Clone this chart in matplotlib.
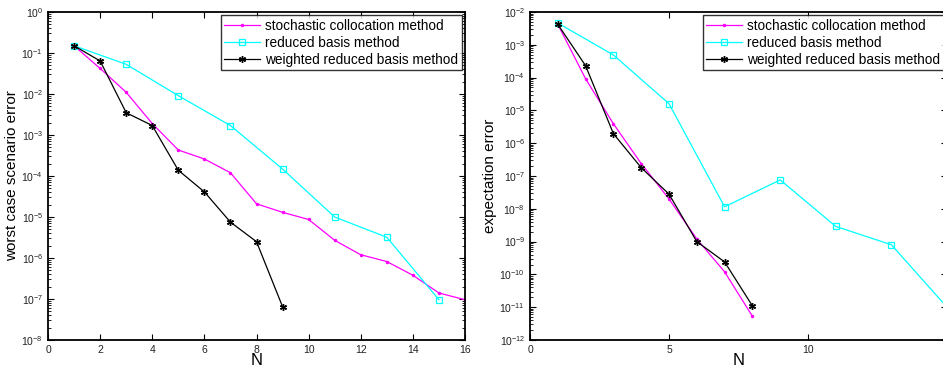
import matplotlib
matplotlib.use("Agg")
import matplotlib.pyplot as plt
import numpy as np
from matplotlib.ticker import LogLocator, NullFormatter, FixedLocator

plt.rcParams['font.family'] = ['Liberation Sans', 'DejaVu Sans']

# ---- left panel: worst case scenario error ----
N_sc_left = [1, 2, 3, 4, 5, 6, 7, 8, 9, 10, 11, 12, 13, 14, 15, 16]
sc_left = [0.15, 0.042, 0.011, 1.9e-3, 4.3e-4, 2.6e-4, 1.2e-4, 2.1e-5, 1.3e-5,
           8.7e-6, 2.7e-6, 1.2e-6, 8.2e-7, 3.8e-7, 1.4e-7, 9.6e-8]
N_rb_left = [1, 3, 5, 7, 9, 11, 13, 15]
rb_left = [0.15, 0.053, 9.1e-3, 1.7e-3, 1.48e-4, 1.0e-5, 3.2e-6, 9.6e-8]
N_wrb_left = [1, 2, 3, 4, 5, 6, 7, 8, 9]
wrb_left = [0.15, 0.064, 3.5e-3, 1.7e-3, 1.38e-4, 4.1e-5, 7.5e-6, 2.5e-6, 6.5e-8]

# ---- right panel: expectation error ----
N_sc_right = [1, 2, 3, 4, 5, 6, 7, 8]
sc_right = [4.2e-3, 9.2e-5, 3.9e-6, 2.4e-7, 2.0e-8, 1.2e-9, 1.2e-10, 5.3e-12]
N_rb_right = [1, 3, 5, 7, 9, 11, 13, 15]
rb_right = [4.6e-3, 4.9e-4, 1.6e-5, 1.15e-8, 7.6e-8, 2.9e-9, 8.0e-10, 1.0e-11]
N_wrb_right = [1, 2, 3, 4, 5, 6, 7, 8]
wrb_right = [4.2e-3, 2.3e-4, 1.95e-6, 1.8e-7, 2.8e-8, 1.0e-9, 2.4e-10, 1.1e-11]

labels = ["stochastic collocation method", "reduced basis method",
          "weighted reduced basis method"]

fig = plt.figure(figsize=(9.43, 3.68), dpi=100)
W, H = 943, 368
axL = fig.add_axes([48 / W, (H - 340) / H, 417 / W, 328 / H])
axR = fig.add_axes([530 / W, (H - 340) / H, 417 / W, 328 / H])

def draw(ax, d, ydec, xlim, xticks, ylabel):
    (xs, ys), (xr, yr), (xw, yw) = d
    ax.semilogy(xs, ys, color='#ff00ff', lw=0.9, marker='.', ms=3, label=labels[0])
    ax.semilogy(xr, yr, color='#00ffff', lw=0.9, marker='s', ms=5, mfc='none',
                mew=0.9, label=labels[1])
    ax.semilogy(xw, yw, color='black', lw=0.9, marker=(6, 2, 0), ms=5,
                mew=1.0, label=labels[2])
    lo, hi = ydec
    ax.set_xlim(*xlim)
    ax.set_ylim(10.0 ** lo, 10.0 ** hi)
    ax.set_xticks(xticks)
    ax.yaxis.set_major_locator(FixedLocator([10.0 ** k for k in range(lo, hi + 1)]))
    minors = [m * 10.0 ** k for k in range(lo, hi) for m in range(2, 10)]
    ax.yaxis.set_minor_locator(FixedLocator(minors))
    ax.yaxis.set_minor_formatter(NullFormatter())
    ax.tick_params(which='both', direction='in', top=True, right=True,
                   labelsize=7.5, colors='black', labelcolor='#222222')
    ax.tick_params(which='major', length=4, width=0.8)
    ax.tick_params(which='minor', length=2, width=0.6)
    for s in ax.spines.values():
        s.set_linewidth(1.3)
    ax.set_xlabel('N', fontsize=12, labelpad=-1)
    ax.set_ylabel(ylabel, fontsize=11, labelpad=2)
    leg = ax.legend(loc='upper right', fontsize=9.8, frameon=True, fancybox=False,
                    edgecolor='black', borderpad=0.25, labelspacing=0.22,
                    handlelength=2.6, handletextpad=0.4, borderaxespad=0.25)
    leg.get_frame().set_linewidth(1.0)

draw(axL, [(N_sc_left, sc_left), (N_rb_left, rb_left), (N_wrb_left, wrb_left)],
     (-8, 0), (0, 16), [0, 2, 4, 6, 8, 10, 12, 14, 16],
     'worst case scenario error')
draw(axR, [(N_sc_right, sc_right), (N_rb_right, rb_right), (N_wrb_right, wrb_right)],
     (-12, -2), (0, 15), [0, 5, 10], 'expectation error')

fig.savefig('out.png', dpi=100)
